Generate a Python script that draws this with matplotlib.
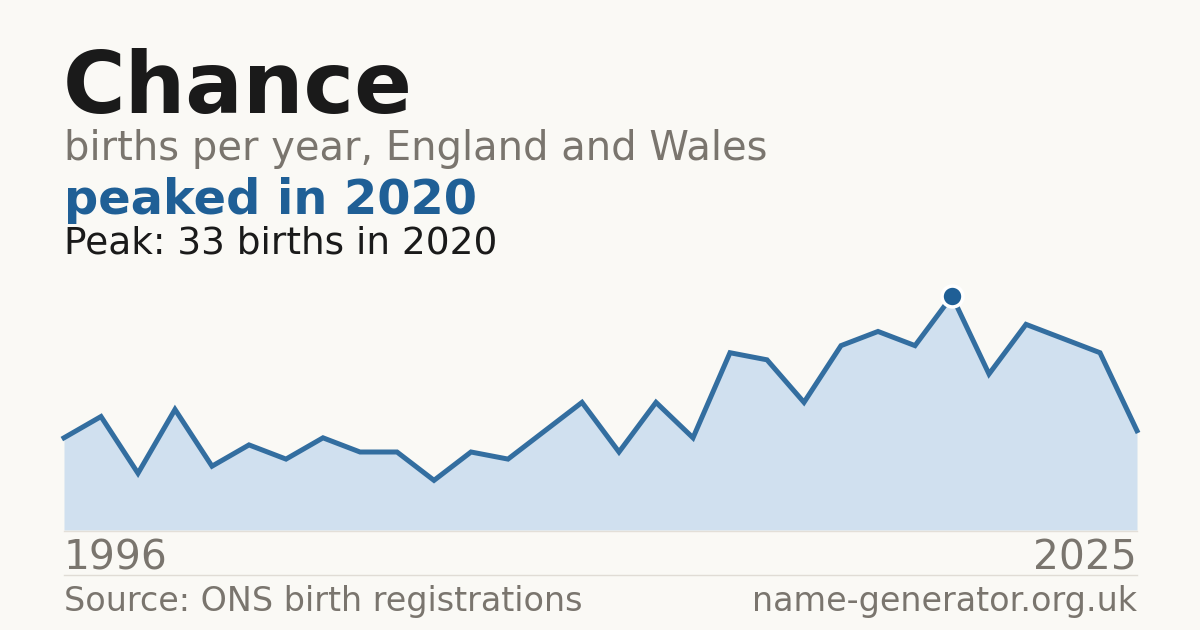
import matplotlib
matplotlib.use("Agg")
import matplotlib.pyplot as plt

# births per year for the name
years = list(range(1996, 2026))
births = [13, 16, 8, 17, 9, 12, 10, 13, 11, 11,
          7, 11, 10, 14, 18, 11, 18, 13, 25, 24,
          18, 26, 28, 26, 33, 22, 29, 27, 25, 14]

name = "Chance"
subtitle = "births per year, England and Wales"
source = "Source: ONS birth registrations"
site = "name-generator.org.uk"

BG = "#faf9f5"
BLUE = "#1f5f96"
LINE = "#336ea0"
FILL = "#d0e0ef"
GREY = "#7a756e"
DARK = "#1a1a1a"

W, H = 1200, 630
fig = plt.figure(figsize=(W / 100, H / 100), dpi=100, facecolor=BG)
plt.rcParams["font.family"] = ["DejaVu Sans"]

peak_i = max(range(len(births)), key=lambda i: births[i])
peak_year, peak_val = years[peak_i], births[peak_i]


def px(x, y):
    # pixel from top-left -> figure fraction
    return x / W, 1 - y / H


# headings
fig.text(*px(63, 113), name, fontsize=61.5, fontweight="bold", color=DARK, va="baseline")
fig.text(*px(64, 160), subtitle, fontsize=28.8, color=GREY, va="baseline")
fig.text(*px(64, 214), f"peaked in {peak_year}", fontsize=34.5, fontweight="bold",
         color=BLUE, va="baseline")
fig.text(*px(64, 254), f"Peak: {peak_val} births in {peak_year}", fontsize=27,
         color=DARK, va="baseline")

# chart area
left, right, top, bottom = 64, 1137, 296, 530
ax = fig.add_axes([left / W, 1 - bottom / H, (right - left) / W, (bottom - top) / H])
ax.set_facecolor("none")
ax.fill_between(years, births, 0, color=FILL, lw=0)
ax.plot(years, births, color=LINE, lw=3.6, solid_joinstyle="miter", clip_on=False)
ax.plot([peak_year], [peak_val], "o", ms=15, color=BLUE, mec="white", mew=2.5,
        clip_on=False, zorder=5)
ax.set_xlim(years[0], years[-1])
ax.set_ylim(0, peak_val)
ax.axis("off")

# baseline under the fill
fig.add_artist(plt.Line2D([left / W, right / W], [1 - 530.5 / H] * 2,
                          color="#e3dfd8", lw=1))

# year labels
fig.text(*px(64, 570), str(years[0]), fontsize=29.3, color=GREY, va="baseline")
fig.text(*px(1137, 570), str(years[-1]), fontsize=29.3, color=GREY, va="baseline",
         ha="right")

# separator and footer
fig.add_artist(plt.Line2D([left / W, right / W], [1 - 574.5 / H] * 2,
                          color="#e0dcd5", lw=1))
fig.text(*px(64, 611), source, fontsize=24, color=GREY, va="baseline")
fig.text(*px(1137, 611), site, fontsize=24, color=GREY, va="baseline", ha="right")

fig.savefig("out.png", dpi=100, facecolor=BG)
